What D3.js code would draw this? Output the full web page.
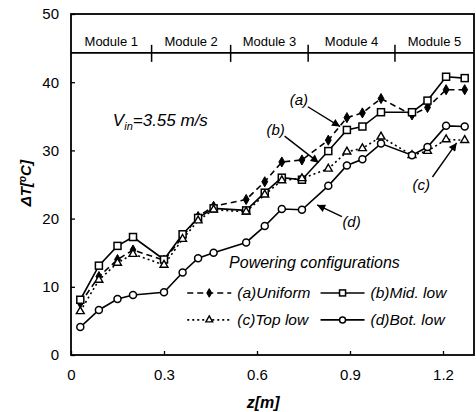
<!DOCTYPE html>
<html>
<head>
<meta charset="utf-8">
<script src="https://cdn.jsdelivr.net/npm/d3@7"></script>
<style>
  body { margin: 0; background: #fff; }
  svg { display: block; font-family: "Liberation Sans", Arial, sans-serif; }
</style>
</head>
<body>
<div id="chart"></div>
<script>
// axial position of each measuring point [m]
const z = [0.03, 0.09, 0.15, 0.20, 0.30, 0.36, 0.41, 0.46, 0.565, 0.625,
           0.68, 0.745, 0.83, 0.89, 0.94, 1.00, 1.10, 1.15, 1.21, 1.27];
// temperature rise for each powering configuration [C]
const uniform = [7.6, 11.5, 14.0, 15.4, 13.9, 17.3, 20.3, 21.8, 22.8, 25.4,
                 28.3, 28.6, 31.5, 34.8, 35.5, 37.6, 35.2, 36.3, 38.9, 38.9];
const midLow = [8.1, 13.1, 16.0, 17.3, 14.0, 17.7, 20.1, 21.5, 21.2, 23.8,
                26.0, 25.7, 29.9, 33.0, 33.5, 35.6, 35.6, 37.3, 40.8, 40.6];
const topLow = [6.4, 11.0, 13.5, 14.8, 13.2, 17.0, 19.7, 21.3, 21.0, 23.5,
                25.6, 25.9, 27.3, 29.8, 30.3, 32.0, 29.3, 29.9, 31.6, 31.5];
const botLow = [4.1, 6.6, 8.2, 8.8, 9.2, 12.1, 14.2, 15.0, 16.5, 18.9,
                21.4, 21.3, 24.8, 27.8, 28.7, 31.0, 29.3, 30.5, 33.6, 33.5];

const xTicks = [0, 0.3, 0.6, 0.9, 1.2];
const yTicks = [0, 10, 20, 30, 40, 50];
const moduleNames = ['Module 1', 'Module 2', 'Module 3', 'Module 4', 'Module 5'];
const moduleEdges = [0, 0.26, 0.515, 0.765, 1.045, 1.3];
const moduleLineT = 44.3;

// annotation labels: text, text position, arrow start, arrow tip (data units)
const notes = [
  { label: '(a)', tz: 0.735, tt: 37.5, z1: 0.764, t1: 36.4, z2: 0.868, t2: 33.5 },
  { label: '(b)', tz: 0.66, tt: 33.0, z1: 0.689, t1: 32.1, z2: 0.799, t2: 28.2 },
  { label: '(c)', tz: 1.13, tt: 25.0, z1: 1.166, t1: 26.1, z2: 1.244, t2: 31.1 },
  { label: '(d)', tz: 0.905, tt: 19.5, z1: 0.874, t1: 20.3, z2: 0.794, t2: 22.0 }
];

const series = [
  { name: '(a)Uniform', values: uniform, dash: '6,4', marker: 'diamond' },
  { name: '(b)Mid. low', values: midLow, dash: null, marker: 'square' },
  { name: '(c)Top low', values: topLow, dash: '2,3', marker: 'triangle' },
  { name: '(d)Bot. low', values: botLow, dash: null, marker: 'circle' }
];

const W = 476, H = 412;
const margin = { top: 14, right: 2, bottom: 57, left: 71 };
const width = W - margin.left - margin.right;
const height = H - margin.top - margin.bottom;

const svg = d3.select('#chart').append('svg')
  .attr('width', W)
  .attr('height', H);

const g = svg.append('g')
  .attr('transform', `translate(${margin.left},${margin.top})`);

const xScale = d3.scaleLinear().domain([0, 1.3]).range([0, width]);
const yScale = d3.scaleLinear().domain([0, 50]).range([height, 0]);

// axes, ticks pointing inwards
const xAxis = g.append('g')
  .attr('transform', `translate(0,${height})`)
  .call(d3.axisBottom(xScale).tickValues(xTicks).tickFormat(d3.format('')).tickSizeInner(-4).tickSizeOuter(0).tickPadding(14));
const yAxis = g.append('g')
  .call(d3.axisLeft(yScale).tickValues(yTicks).tickSizeInner(-4).tickSizeOuter(0).tickPadding(12));
[xAxis, yAxis].forEach(a => {
  a.select('.domain').remove();
  a.selectAll('text').style('font-size', '15px').style('font-family', '"Liberation Sans", Arial, sans-serif').attr('fill', '#000');
  a.selectAll('line').attr('stroke', '#000').attr('stroke-width', 1.3);
});

// frame
g.append('rect')
  .attr('width', width)
  .attr('height', height)
  .attr('fill', 'none')
  .attr('stroke', '#000')
  .attr('stroke-width', 1.8);

// module bar
g.append('line')
  .attr('x1', xScale(0)).attr('x2', xScale(1.3))
  .attr('y1', yScale(moduleLineT)).attr('y2', yScale(moduleLineT))
  .attr('stroke', '#000').attr('stroke-width', 1.6);
g.selectAll('.mod-tick')
  .data(moduleEdges.slice(1, -1))
  .enter().append('line')
  .attr('x1', d => xScale(d)).attr('x2', d => xScale(d))
  .attr('y1', yScale(moduleLineT) - 8).attr('y2', yScale(moduleLineT) + 9)
  .attr('stroke', '#000').attr('stroke-width', 1.5);
g.selectAll('.mod-label')
  .data(moduleNames)
  .enter().append('text')
  .attr('x', (d, i) => xScale((moduleEdges[i] + moduleEdges[i + 1]) / 2))
  .attr('y', yScale(moduleLineT) - 7)
  .attr('text-anchor', 'middle')
  .style('font-size', '13px')
  .text(d => d);

// series lines
const line = d3.line()
  .x((d, i) => xScale(z[i]))
  .y(d => yScale(d));

series.forEach(s => {
  g.append('path')
    .datum(s.values)
    .attr('fill', 'none')
    .attr('stroke', '#000')
    .attr('stroke-width', 1.6)
    .attr('stroke-dasharray', s.dash)
    .attr('d', line);
});

function drawMarker(sel, type, size) {
  if (type === 'circle') {
    sel.append('circle').attr('r', size * 0.5)
      .attr('fill', '#fff').attr('stroke', '#000').attr('stroke-width', 1.5);
  } else if (type === 'square') {
    const h = size / 2;
    sel.append('rect').attr('x', -h).attr('y', -h).attr('width', size).attr('height', size)
      .attr('fill', '#fff').attr('stroke', '#000').attr('stroke-width', 1.5);
  } else if (type === 'triangle') {
    sel.append('path')
      .attr('d', d3.symbol().type(d3.symbolTriangle).size(size * size * 0.55))
      .attr('fill', '#fff').attr('stroke', '#000').attr('stroke-width', 1.4);
  } else {
    sel.append('path')
      .attr('d', d3.symbol().type(d3.symbolDiamond).size(size * size * 0.6))
      .attr('fill', '#000').attr('stroke', '#000').attr('stroke-width', 1);
  }
}

// series markers
series.forEach(s => {
  g.selectAll(null)
    .data(s.values)
    .enter().append('g')
    .attr('transform', (d, i) => `translate(${xScale(z[i])},${yScale(d)})`)
    .each(function () { drawMarker(d3.select(this), s.marker, 7); });
});

// annotations
const defs = svg.append('defs');
defs.append('marker')
  .attr('id', 'arrow')
  .attr('viewBox', '0 0 10 10')
  .attr('refX', 10).attr('refY', 5)
  .attr('markerWidth', 10).attr('markerHeight', 8)
  .attr('markerUnits', 'userSpaceOnUse')
  .attr('orient', 'auto')
  .append('path').attr('d', 'M0,0L10,5L0,10Z').attr('fill', '#000');

notes.forEach(n => {
  g.append('line')
    .attr('x1', xScale(n.z1)).attr('y1', yScale(n.t1))
    .attr('x2', xScale(n.z2)).attr('y2', yScale(n.t2))
    .attr('stroke', '#000').attr('stroke-width', 1.4)
    .attr('marker-end', 'url(#arrow)');
  g.append('text')
    .attr('x', xScale(n.tz)).attr('y', yScale(n.tt))
    .attr('text-anchor', 'middle')
    .attr('dy', '0.35em')
    .style('font-size', '15px')
    .style('font-style', 'italic')
    .text(n.label);
});

// inlet velocity
const vin = g.append('text')
  .attr('x', xScale(0.135)).attr('y', yScale(33.6))
  .style('font-size', '17px')
  .style('font-style', 'italic');
vin.append('tspan').text('V');
vin.append('tspan').attr('dy', 4).style('font-size', '11px').text('in');
vin.append('tspan').attr('dy', -4).text('=3.55 m/s');

// legend
const legend = g.append('g');
legend.append('text')
  .attr('x', xScale(0.51)).attr('y', yScale(12.8))
  .style('font-size', '16px')
  .style('font-style', 'italic')
  .text('Powering configurations');

const legendPos = [
  { x0: 0.375, tt: 9.1 },
  { x0: 0.805, tt: 9.1 },
  { x0: 0.375, tt: 5.15 },
  { x0: 0.805, tt: 5.15 }
];
series.forEach((s, i) => {
  const p = legendPos[i];
  const xa = xScale(p.x0), ya = yScale(p.tt);
  legend.append('line')
    .attr('x1', xa).attr('x2', xa + 44)
    .attr('y1', ya).attr('y2', ya)
    .attr('stroke', '#000').attr('stroke-width', 1.6)
    .attr('stroke-dasharray', s.dash);
  const m = legend.append('g').attr('transform', `translate(${xa + 22},${ya})`);
  drawMarker(m, s.marker, 6);
  legend.append('text')
    .attr('x', xa + 50).attr('y', ya)
    .attr('dy', '0.35em')
    .style('font-size', '15.5px')
    .style('font-style', 'italic')
    .text(s.name);
});

// axis titles
svg.append('text')
  .attr('x', margin.left + xScale(0.62))
  .attr('y', 408)
  .attr('text-anchor', 'middle')
  .style('font-size', '16px')
  .style('font-weight', 'bold')
  .style('font-style', 'italic')
  .text('z[m]');

const yTitle = svg.append('text')
  .attr('transform', `translate(31,${margin.top + yScale(25.2)}) rotate(-90)`)
  .attr('text-anchor', 'middle')
  .style('font-size', '15px')
  .style('font-weight', 'bold')
  .style('font-style', 'italic');
yTitle.append('tspan').text('\u0394T[');
yTitle.append('tspan').attr('dy', -5).style('font-size', '10px').text('o');
yTitle.append('tspan').attr('dy', 5).text('C]');
</script>
</body>
</html>
